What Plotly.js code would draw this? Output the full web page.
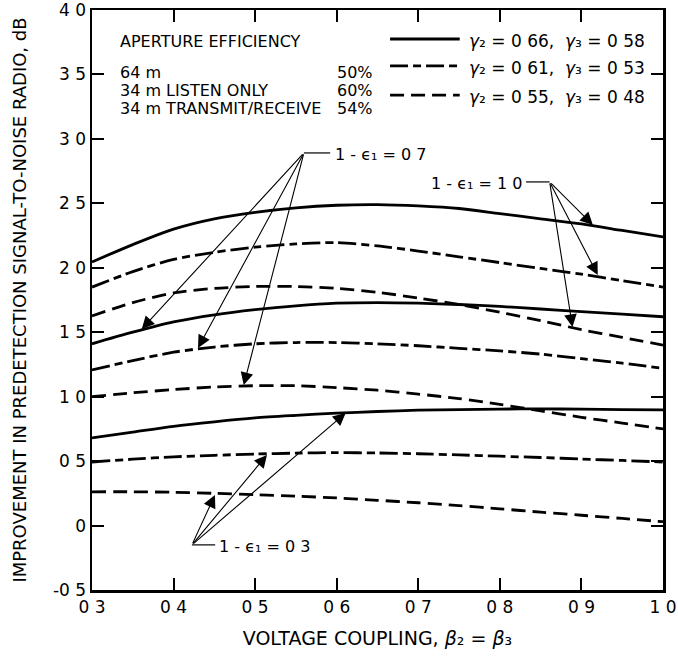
<!DOCTYPE html>
<html>
<head>
<meta charset="utf-8">
<script src="https://cdn.plot.ly/plotly-3.0.1.min.js"></script>
<style>html,body{margin:0;padding:0;background:#fff;}#chart{width:678px;height:656px;}</style>
</head>
<body>
<div id="chart"></div>
<script>
// Voltage coupling beta2 = beta3
var coupling = [0.30, 0.35, 0.40, 0.45, 0.50, 0.55, 0.60, 0.65, 0.70, 0.75, 0.80, 0.85, 0.90, 0.95, 1.00];

// 1 - eps1 = 1.0
var eps10_g066 = [2.045, 2.18, 2.30, 2.38, 2.43, 2.465, 2.485, 2.49, 2.48, 2.46, 2.42, 2.38, 2.34, 2.29, 2.24];
var eps10_g061 = [1.85, 1.97, 2.065, 2.12, 2.16, 2.185, 2.195, 2.17, 2.13, 2.085, 2.04, 1.995, 1.95, 1.90, 1.85];
var eps10_g055 = [1.626, 1.73, 1.805, 1.84, 1.855, 1.855, 1.84, 1.81, 1.765, 1.715, 1.655, 1.59, 1.52, 1.46, 1.40];
// 1 - eps1 = 0.7
var eps07_g066 = [1.41, 1.50, 1.58, 1.635, 1.675, 1.705, 1.725, 1.73, 1.725, 1.715, 1.70, 1.68, 1.66, 1.64, 1.62];
var eps07_g061 = [1.207, 1.28, 1.345, 1.385, 1.41, 1.42, 1.42, 1.41, 1.395, 1.375, 1.355, 1.33, 1.295, 1.26, 1.22];
var eps07_g055 = [1.00, 1.03, 1.055, 1.075, 1.085, 1.085, 1.07, 1.05, 1.02, 0.985, 0.94, 0.89, 0.84, 0.795, 0.75];
// 1 - eps1 = 0.3
var eps03_g066 = [0.68, 0.725, 0.77, 0.805, 0.835, 0.855, 0.872, 0.885, 0.895, 0.90, 0.904, 0.905, 0.903, 0.90, 0.897];
var eps03_g061 = [0.493, 0.515, 0.533, 0.545, 0.555, 0.562, 0.566, 0.563, 0.557, 0.548, 0.538, 0.528, 0.516, 0.505, 0.493];
var eps03_g055 = [0.262, 0.262, 0.258, 0.25, 0.24, 0.228, 0.214, 0.196, 0.177, 0.155, 0.13, 0.104, 0.08, 0.055, 0.03];

var xTickVals = [0.3, 0.4, 0.5, 0.6, 0.7, 0.8, 0.9, 1.0];
var xTickText = ['0 3', '0 4', '0 5', '0 6', '0 7', '0 8', '0 9', '1 0'];
var yTickVals = [-0.5, 0, 0.5, 1.0, 1.5, 2.0, 2.5, 3.0, 3.5, 4.0];
var yTickText = ['-0 5', '0', '0 5', '1 0', '1 5', '2 0', '2 5', '3 0', '3 5', '4 0'];

var legendTitle = 'APERTURE EFFICIENCY';
var antennaNames = ['64 m', '34 m LISTEN ONLY', '34 m TRANSMIT/RECEIVE'];
var antennaEff = ['50%', '60%', '54%'];
var gammaLabels = [
  '<i>γ</i>₂ = 0 66,  <i>γ</i>₃ = 0 58',
  '<i>γ</i>₂ = 0 61,  <i>γ</i>₃ = 0 53',
  '<i>γ</i>₂ = 0 55,  <i>γ</i>₃ = 0 48'
];
var groupLabels = ['1 - ϵ₁ = 1 0', '1 - ϵ₁ = 0 7', '1 - ϵ₁ = 0 3'];

var DASH = ['solid', '18px,5px,8px,5px', '14px,7px'];
var FONT = 'DejaVu Sans, Arial, sans-serif';

var series = [
  [eps10_g066, 0], [eps10_g061, 1], [eps10_g055, 2],
  [eps07_g066, 0], [eps07_g061, 1], [eps07_g055, 2],
  [eps03_g066, 0], [eps03_g061, 1], [eps03_g055, 2]
];
var traces = series.map(function (s) {
  return {
    x: coupling, y: s[0], type: 'scatter', mode: 'lines',
    line: {color: '#000', width: 2.8, dash: DASH[s[1]], shape: 'spline', smoothing: 0.8},
    showlegend: false, hoverinfo: 'skip'
  };
});

function arrow(x, y, ax, ay) {
  return {x: x, y: y, ax: ax, ay: ay, xref: 'x', yref: 'y', axref: 'x', ayref: 'y',
    text: '', showarrow: true, arrowhead: 2, arrowsize: 2.3, arrowwidth: 1.1, arrowcolor: '#000', standoff: 0};
}

var annotations = [];
// legend text (paper coords)
annotations.push({xref: 'paper', yref: 'paper', x: 0.0455, y: 0.945, xanchor: 'left', yanchor: 'middle', text: legendTitle, showarrow: false, font: {size: 16}});
var rowY = [0.893, 0.862, 0.831];
for (var i = 0; i < 3; i++) {
  annotations.push({xref: 'paper', yref: 'paper', x: 0.0455, y: rowY[i], xanchor: 'left', yanchor: 'middle', text: antennaNames[i], showarrow: false, font: {size: 16}});
  annotations.push({xref: 'paper', yref: 'paper', x: 0.4256, y: rowY[i], xanchor: 'left', yanchor: 'middle', text: antennaEff[i], showarrow: false, font: {size: 16}});
}
var legY = [0.95, 0.9035, 0.8534];
var shapes = [];
for (var j = 0; j < 3; j++) {
  annotations.push({xref: 'paper', yref: 'paper', x: 0.657, y: legY[j] - 0.004, xanchor: 'left', yanchor: 'middle', text: gammaLabels[j], showarrow: false, font: {size: 17}});
  shapes.push({type: 'line', xref: 'paper', yref: 'paper', x0: 0.522, x1: 0.644, y0: legY[j], y1: legY[j], line: {color: '#000', width: 2.8, dash: DASH[j]}});
}

// group labels with leaders
annotations.push({xref: 'x', yref: 'y', x: 0.829, y: 2.655, xanchor: 'right', yanchor: 'middle', text: groupLabels[0], showarrow: false, font: {size: 16}});
shapes.push({type: 'line', xref: 'x', yref: 'y', x0: 0.832, x1: 0.861, y0: 2.666, y1: 2.666, line: {color: '#000', width: 1.2}});
annotations.push({xref: 'x', yref: 'y', x: 0.596, y: 2.88, xanchor: 'left', yanchor: 'middle', text: groupLabels[1], showarrow: false, font: {size: 16}});
shapes.push({type: 'line', xref: 'x', yref: 'y', x0: 0.5598, x1: 0.592, y0: 2.891, y1: 2.891, line: {color: '#000', width: 1.2}});
annotations.push({xref: 'x', yref: 'y', x: 0.453, y: -0.16, xanchor: 'left', yanchor: 'middle', text: groupLabels[2], showarrow: false, font: {size: 16}});
shapes.push({type: 'line', xref: 'x', yref: 'y', x0: 0.4225, x1: 0.451, y0: -0.15, y1: -0.15, line: {color: '#000', width: 1.2}});

// arrows
annotations.push(arrow(0.914, 2.332, 0.861, 2.666));
annotations.push(arrow(0.920, 1.944, 0.861, 2.666));
annotations.push(arrow(0.889, 1.541, 0.861, 2.666));
annotations.push(arrow(0.361, 1.525, 0.5598, 2.891));
annotations.push(arrow(0.430, 1.378, 0.5598, 2.891));
annotations.push(arrow(0.486, 1.090, 0.5598, 2.891));
annotations.push(arrow(0.4507, 0.237, 0.4225, -0.15));
annotations.push(arrow(0.5145, 0.548, 0.4225, -0.15));
annotations.push(arrow(0.611, 0.873, 0.4225, -0.15));

var axisCommon = {
  showline: true, linecolor: '#000', linewidth: 2.5, mirror: 'ticks',
  ticks: 'inside', ticklen: 12, tickwidth: 2, tickcolor: '#000',
  showgrid: false, zeroline: false, tickmode: 'array',
  ticklabeloverflow: 'allow',
  tickfont: {size: 17, color: '#000', family: FONT}
};

var layout = {
  width: 678, height: 656,
  margin: {l: 92, r: 15, t: 10, b: 66},
  paper_bgcolor: '#fff', plot_bgcolor: '#fff',
  font: {family: FONT, color: '#000', size: 16},
  showlegend: false,
  xaxis: Object.assign({}, axisCommon, {
    range: [0.3, 1.0], tickvals: xTickVals, ticktext: xTickText,
    title: {text: 'VOLTAGE COUPLING, <i>β</i>₂ = <i>β</i>₃', font: {size: 19}, standoff: 16}
  }),
  yaxis: Object.assign({}, axisCommon, {
    range: [-0.5, 4.0], tickvals: yTickVals, ticktext: yTickText,
    title: {text: 'IMPROVEMENT IN PREDETECTION SIGNAL-TO-NOISE RADIO, dB', font: {size: 18}, standoff: 22}
  }),
  annotations: annotations,
  shapes: shapes
};

Plotly.newPlot('chart', traces, layout, {displayModeBar: false, staticPlot: true});
</script>
</body>
</html>
